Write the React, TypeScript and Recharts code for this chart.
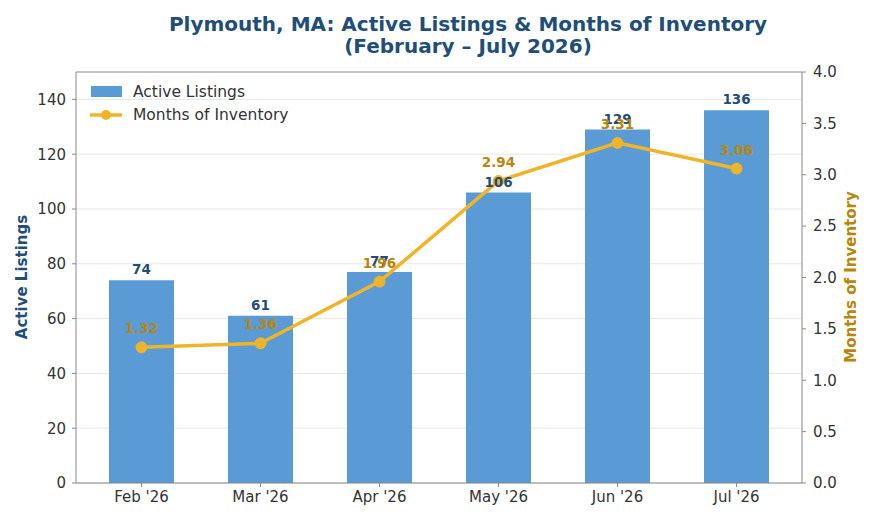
import React from "react";
import {
  ComposedChart,
  Bar,
  Line,
  XAxis,
  YAxis,
  CartesianGrid,
  LabelList,
  ReferenceLine,
} from "recharts";

const months = ["Feb '26", "Mar '26", "Apr '26", "May '26", "Jun '26", "Jul '26"];
const activeListings = [74, 61, 77, 106, 129, 136];
const monthsOfInventory = [1.32, 1.36, 1.96, 2.94, 3.31, 3.06];
const listingTicks = [0, 20, 40, 60, 80, 100, 120, 140];
const inventoryTicks = [0, 0.5, 1, 1.5, 2, 2.5, 3, 3.5, 4];

const FONT = "'DejaVu Sans', sans-serif";
const NAVY = "#1f4e79";
const GOLD = "#b8860b";
const BAR_BLUE = "#5b9bd5";
const LINE_YELLOW = "#f0b429";
const TEXT = "#333333";
const SPINE = "#888888";

const data = months.map((m, i) => ({
  month: m,
  listings: activeListings[i],
  moi: monthsOfInventory[i],
}));

// legend sits inside the plot's top-left corner, no frame
function LegendBox() {
  const row: React.CSSProperties = {
    display: "flex",
    alignItems: "center",
    height: 23,
    fontSize: 15.5,
    color: TEXT,
    fontFamily: FONT,
  };
  return (
    <div style={{ position: "absolute", left: 86, top: 80 }}>
      <div style={row}>
        <svg width={42} height={14}>
          <rect x={5} y={1} width={31} height={11} fill={BAR_BLUE} />
        </svg>
        <span style={{ marginLeft: 5 }}>Active Listings</span>
      </div>
      <div style={row}>
        <svg width={42} height={14}>
          <line x1={4} y1={7} x2={36} y2={7} stroke={LINE_YELLOW} strokeWidth={3.5} />
          <circle cx={20} cy={7} r={5} fill={LINE_YELLOW} />
        </svg>
        <span style={{ marginLeft: 5 }}>Months of Inventory</span>
      </div>
    </div>
  );
}

export default function App() {
  const tickStyle = { fill: TEXT, fontSize: 15, fontFamily: FONT };
  return (
    <div
      style={{
        position: "fixed",
        left: 0,
        top: 0,
        width: 875,
        height: 525,
        background: "#fff",
        fontFamily: FONT,
      }}
    >
      <div
        style={{
          position: "absolute",
          left: 468,
          top: 13,
          transform: "translateX(-50%)",
          textAlign: "center",
          whiteSpace: "nowrap",
          color: NAVY,
          fontWeight: "bold",
          fontSize: 20,
          lineHeight: "22px",
        }}
      >
        Plymouth, MA: Active Listings &amp; Months of Inventory
        <br />
        (February – July 2026)
      </div>
      <div
        style={{
          position: "absolute",
          left: 22,
          top: 277,
          transform: "translate(-50%, -50%) rotate(-90deg)",
          whiteSpace: "nowrap",
          color: NAVY,
          fontWeight: "bold",
          fontSize: 15,
        }}
      >
        Active Listings
      </div>
      <div
        style={{
          position: "absolute",
          left: 851,
          top: 277,
          transform: "translate(-50%, -50%) rotate(-90deg)",
          whiteSpace: "nowrap",
          color: GOLD,
          fontWeight: "bold",
          fontSize: 15,
        }}
      >
        Months of Inventory
      </div>
      <ComposedChart
        width={875}
        height={525}
        data={data}
        margin={{ top: 72, right: 0, bottom: 0, left: 0 }}
        style={{ position: "absolute", left: 0, top: 0 }}
      >
        <CartesianGrid
          yAxisId="left"
          vertical={false}
          stroke="#e6e6e6"
          horizontalValues={listingTicks}
        />
        <XAxis
          dataKey="month"
          height={42}
          padding={{ left: 6, right: 6 }}
          stroke={SPINE}
          tickSize={4}
          tickMargin={4}
          tick={tickStyle}
        />
        <YAxis
          yAxisId="left"
          width={76}
          domain={[0, 150]}
          ticks={listingTicks}
          stroke={SPINE}
          tickSize={4}
          tickMargin={6}
          tick={tickStyle}
        />
        <YAxis
          yAxisId="right"
          orientation="right"
          width={73}
          domain={[0, 4]}
          ticks={inventoryTicks}
          tickFormatter={(v: number) => v.toFixed(1)}
          stroke={SPINE}
          tickSize={4}
          tickMargin={7}
          tick={tickStyle}
        />
        <ReferenceLine yAxisId="left" y={150} stroke={SPINE} />
        <Bar
          yAxisId="left"
          dataKey="listings"
          name="Active Listings"
          fill={BAR_BLUE}
          barSize={65}
          isAnimationActive={false}
        >
          <LabelList
            dataKey="listings"
            position="top"
            offset={6}
            fill={NAVY}
            fontSize={13.5}
            fontWeight="bold"
            fontFamily={FONT}
          />
        </Bar>
        <Line
          yAxisId="right"
          dataKey="moi"
          name="Months of Inventory"
          stroke={LINE_YELLOW}
          strokeWidth={3.5}
          dot={{ r: 5.5, fill: LINE_YELLOW, stroke: LINE_YELLOW, strokeWidth: 1 }}
          isAnimationActive={false}
        >
          <LabelList
            dataKey="moi"
            position="top"
            offset={14}
            formatter={(v: number) => v.toFixed(2)}
            fill={GOLD}
            fontSize={13.5}
            fontWeight="bold"
            fontFamily={FONT}
          />
        </Line>
      </ComposedChart>
      <LegendBox />
    </div>
  );
}
